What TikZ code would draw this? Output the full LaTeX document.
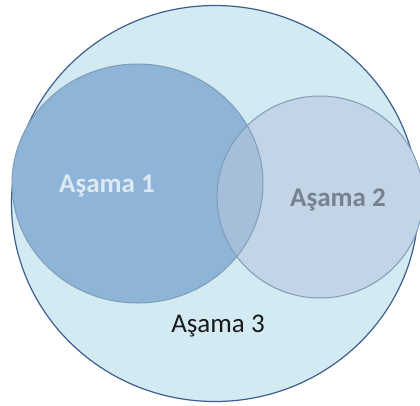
\documentclass[tikz,border=0pt]{standalone}
\usepackage{fontspec}
\setmainfont{Carlito}
\usetikzlibrary{shapes.geometric}
\definecolor{bgfill}{HTML}{D3EAF2}
\definecolor{bgline}{HTML}{3D5F8E}
\definecolor{afill}{HTML}{8EB4D8}
\definecolor{bfill}{HTML}{C2D4E5}
\definecolor{abfill}{HTML}{A5BFDB}
\definecolor{ringline}{HTML}{7E9DB8}
\definecolor{atext}{HTML}{DDE9F3}
\definecolor{btext}{HTML}{74838E}
\definecolor{ctext}{HTML}{1A1A1A}
\tikzset{
  ring/.style={draw=ringline, line width=1pt},
  lbl/.style={font=\fontsize{27}{30}\selectfont\bfseries, inner sep=0pt}
}
\begin{document}
\begin{tikzpicture}[x=1pt,y=-1pt]
\useasboundingbox (0,0) rectangle (420,405);
\fill[white] (0,0) rectangle (420,405);
\node[ellipse, draw=bgline, line width=1.2pt, fill=bgfill, minimum width=407pt, minimum height=396pt, inner sep=0pt] (s3) at (215,203.5) {};
\fill[afill] (137.5,183.5) ellipse [x radius=125.5, y radius=119.5];
\fill[bfill] (320,197) ellipse [x radius=103, y radius=101];
\begin{scope}
\clip (137.5,183.5) ellipse [x radius=125.5, y radius=119.5];
\fill[abfill] (320,197) ellipse [x radius=103, y radius=101];
\end{scope}
\draw[ring] (137.5,183.5) ellipse [x radius=125.5, y radius=119.5];
\draw[ring] (320,197) ellipse [x radius=103, y radius=101];
\node[lbl, text=atext] (a1) at (107,186) {Aşama 1};
\node[lbl, text=btext] (a2) at (338,200) {Aşama 2};
\node[font=\fontsize{27}{30}\selectfont, text=ctext, inner sep=0pt] (a3) at (218,326) {Aşama 3};
\end{tikzpicture}
\end{document}
